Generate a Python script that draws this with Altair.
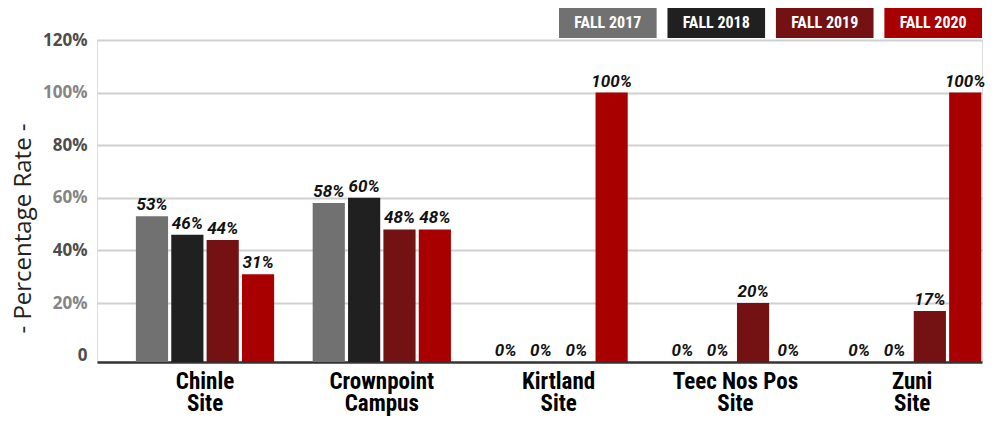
import altair as alt
import pandas as pd

sites = ["Chinle|Site", "Crownpoint|Campus", "Kirtland|Site", "Teec Nos Pos|Site", "Zuni|Site"]
terms = ["FALL 2017", "FALL 2018", "FALL 2019", "FALL 2020"]
fall_2017 = [53, 58, 0, 0, 0]
fall_2018 = [46, 60, 0, 0, 0]
fall_2019 = [44, 48, 0, 20, 17]
fall_2020 = [31, 48, 100, 0, 100]
colors = ["#717171", "#202020", "#741112", "#a80000"]
y_ticks = [0, 20, 40, 60, 80, 100, 120]

series = [fall_2017, fall_2018, fall_2019, fall_2020]
rows = []
for term, vals in zip(terms, series):
    for site, v in zip(sites, vals):
        rows.append({"site": site, "term": term, "rate": v})
df = pd.DataFrame(rows)
legend_df = pd.DataFrame({"term": terms})

Y_MIN = -2.4
COND_FONT = "Roboto Condensed, DejaVu Sans Condensed, Roboto"

x_enc = alt.X(
    "site:N",
    sort=sites,
    scale=alt.Scale(paddingInner=0.21, paddingOuter=0.108, align=1),
    axis=alt.Axis(
        title=None,
        labelExpr="split(datum.label, '|')",
        labelFont=COND_FONT,
        labelFontWeight="bold",
        labelFontSize=23,
        labelLineHeight=22,
        labelColor="#000000",
        labelPadding=8,
        ticks=False,
        domain=True,
        domainColor="#333333",
        domainWidth=2.5,
        grid=False,
        labelAngle=0,
    ),
)
xoff_enc = alt.XOffset("term:N", sort=terms, scale=alt.Scale(paddingInner=0.09, paddingOuter=0.02))

y_scale = alt.Scale(domain=[Y_MIN, 120], nice=False, zero=False)
y_enc = alt.Y(
    "rate:Q",
    scale=y_scale,
    axis=alt.Axis(
        values=y_ticks,
        title="- Percentage Rate -",
        titleFont="Open Sans",
        titleFontSize=24,
        titleFontWeight="normal",
        titleColor="#222222",
        titleAngle=-90,
        titleX=-74,
        titleY=188,
        titleAlign="center",
        titleBaseline="middle",
        labelExpr="datum.value == 0 ? '0' : datum.value + '%'",
        labelFont="Open Sans",
        labelFontWeight="bold",
        labelFontSize=17,
        labelColor={"condition": {"test": "datum.value % 40 == 0", "value": "#4d4d4d"}, "value": "#858585"},
        labelPadding=10,
        ticks=False,
        domain=False,
        grid=True,
        gridColor={"condition": {"test": "datum.value == 0", "value": "transparent"}, "value": "#d0d0d0"},
        gridWidth=2,
    ),
)

color_enc = alt.Color("term:N", sort=terms, scale=alt.Scale(domain=terms, range=colors), legend=None)

base = alt.Chart(df)
bars = base.transform_filter("datum.rate > 0").mark_bar().encode(
    x=x_enc,
    xOffset=xoff_enc,
    y=y_enc,
    y2=alt.datum(Y_MIN),
    color=color_enc,
)
labels = base.transform_calculate(
    label_y=f"datum.rate > 0 ? datum.rate : {Y_MIN}",
    label_txt="datum.rate + '%'",
).mark_text(
    font="Roboto",
    fontStyle="italic",
    fontWeight="bold",
    fontSize=17,
    color="#111111",
    baseline="alphabetic",
    dy=-6,
).encode(
    x=x_enc,
    xOffset=xoff_enc,
    y=alt.Y("label_y:Q", scale=y_scale),
    text="label_txt:N",
)

leg_x = alt.X("term:N", sort=terms, scale=alt.Scale(range=[462, 885], paddingInner=0.1, paddingOuter=0), axis=None)
leg_rect = alt.Chart(legend_df).mark_rect().encode(
    x=leg_x,
    y=alt.value(-32),
    y2=alt.value(-2),
    color=color_enc,
)
leg_text = alt.Chart(legend_df).mark_text(
    font=COND_FONT,
    fontWeight="bold",
    fontSize=16,
    color="white",
    baseline="middle",
).encode(
    x=leg_x,
    y=alt.value(-17),
    text="term:N",
)

chart = alt.layer(
    alt.layer(bars, labels),
    alt.layer(leg_rect, leg_text),
).resolve_scale(x="independent").properties(
    width=885,
    height=322,
    autosize=alt.AutoSizeParams(type="none"),
    padding={"left": 89, "top": 32, "right": 6, "bottom": 60},
).configure_view(stroke=None).configure(background="white")

chart.save("out.html", embed_options={"renderer": "svg", "actions": False})
